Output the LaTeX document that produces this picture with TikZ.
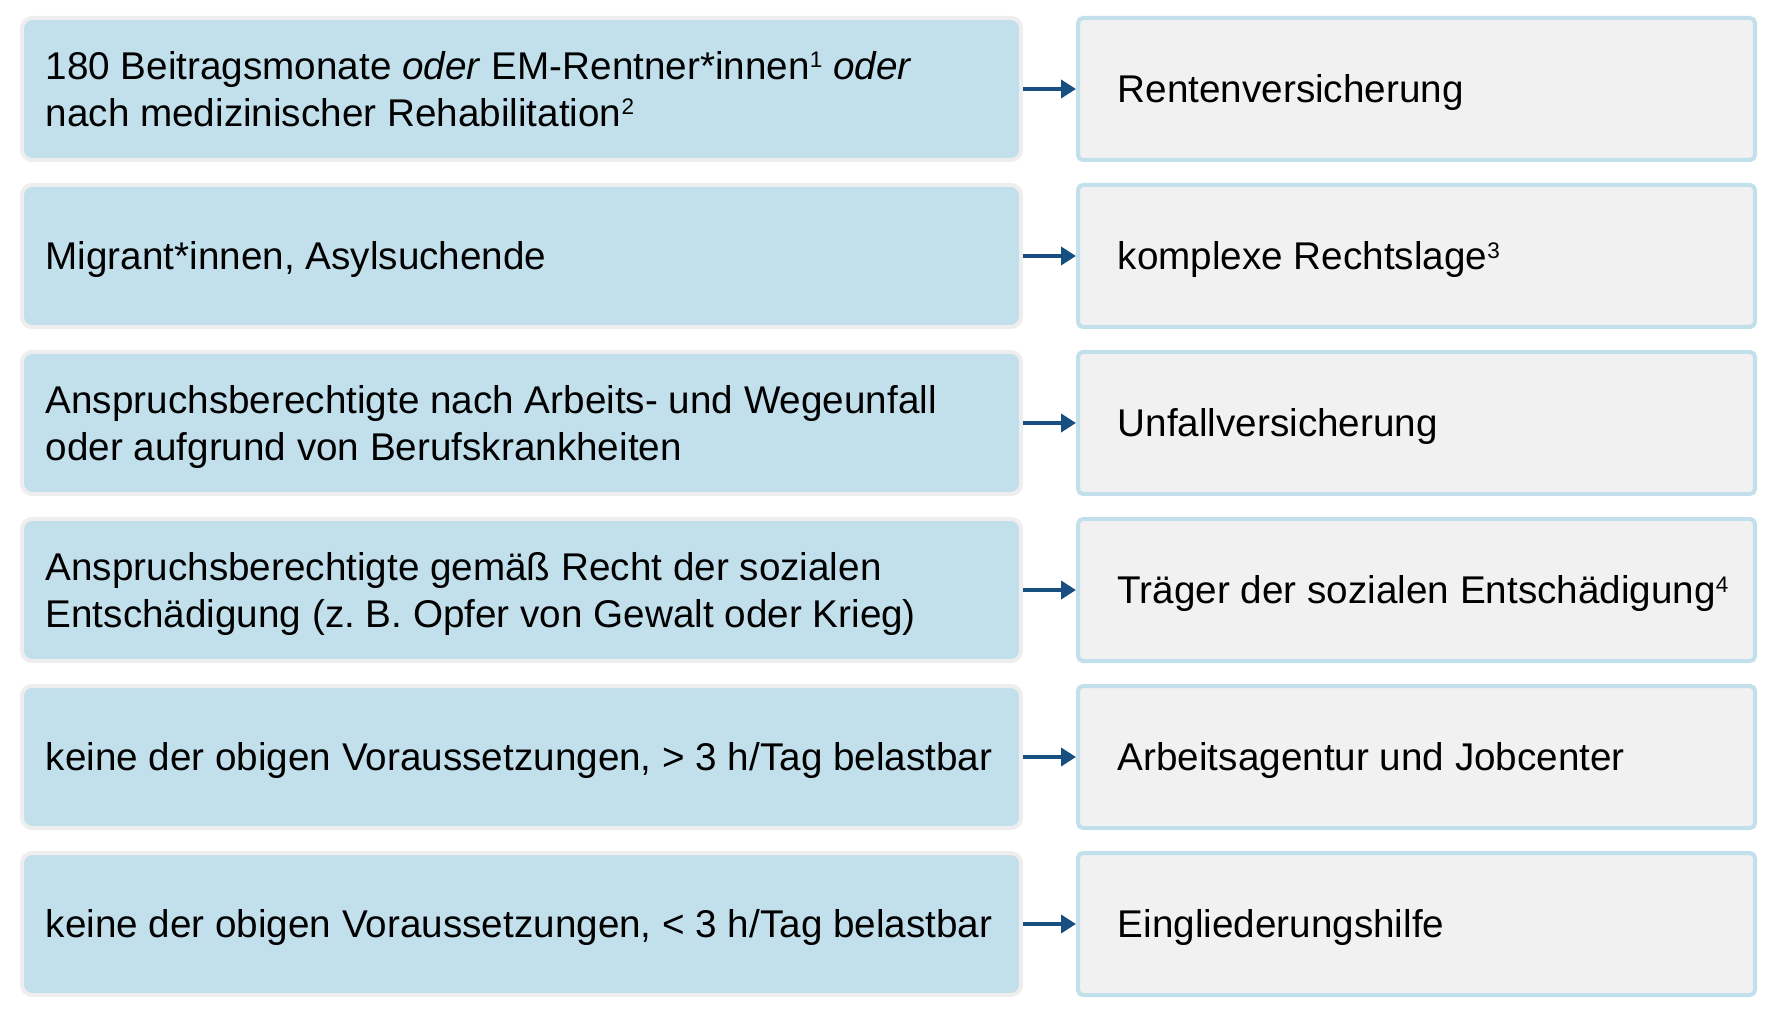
\documentclass[tikz,border=0pt]{standalone}
\usepackage{fontspec}
\setmainfont{Liberation Sans}
\usetikzlibrary{positioning, arrows.meta}
\definecolor{boxblue}{RGB}{194,223,236}
\definecolor{boxgrey}{RGB}{241,241,241}
\definecolor{rimgrey}{RGB}{238,238,238}
\definecolor{arrowblue}{RGB}{23,79,128}
\newcommand{\fn}[1]{\raisebox{3.3pt}{\fontsize{6.4}{6.4}\selectfont #1}}
\tikzstyle{group} = [rectangle, rounded corners=0.1cm, minimum width=9.99cm, minimum height=1.42cm, fill=boxblue, draw=rimgrey, line width=0.04cm]
\tikzstyle{carrier} = [rectangle, rounded corners=0.05cm, minimum width=6.77cm, minimum height=1.42cm, fill=boxgrey, draw=boxblue, line width=0.04cm]
\tikzstyle{label} = [inner sep=0pt, align=left, text height=0.277cm, text depth=0pt, font=\fontsize{11}{13.4}\selectfont]
\tikzstyle{twolines} = [text height=0.748cm]
\tikzstyle{arrow} = [line width=1.1pt,->,>={Triangle[length=1.5mm,width=1.8mm]},draw=arrowblue]

\begin{document}
\begin{tikzpicture}[node distance=1.67cm]
    \useasboundingbox (0,0) rectangle (17.72,10.24);
    % left column: who
    \node (pension) [group] at (5.215,9.35) {};
    \node (migrant) [group, below of=pension] {};
    \node (accident) [group, below of=migrant] {};
    \node (victim) [group, below of=accident] {};
    \node (able) [group, below of=victim] {};
    \node (unable) [group, below of=able] {};
    % right column: which carrier
    \node (rv) [carrier, right of=pension, xshift=7.28cm] {};
    \node (legal) [carrier, right of=migrant, xshift=7.28cm] {};
    \node (uv) [carrier, right of=accident, xshift=7.28cm] {};
    \node (se) [carrier, right of=victim, xshift=7.28cm] {};
    \node (job) [carrier, right of=able, xshift=7.28cm] {};
    \node (eh) [carrier, right of=unable, xshift=7.28cm] {};

    \node (pension text) [label, twolines, right=0.25cm of pension.west] {180 Beitragsmonate \textit{oder} EM-Rentner*innen\fn{1} \textit{oder}\\nach medizinischer Rehabilitation\fn{2}};
    \node (migrant text) [label, right=0.25cm of migrant.west] {Migrant*innen, Asylsuchende};
    \node (accident text) [label, twolines, right=0.25cm of accident.west] {Anspruchsberechtigte nach Arbeits- und Wegeunfall\\oder aufgrund von Berufskrankheiten};
    \node (victim text) [label, twolines, right=0.25cm of victim.west] {Anspruchsberechtigte gemäß Recht der sozialen\\Entschädigung (z.~B. Opfer von Gewalt oder Krieg)};
    \node (able text) [label, right=0.25cm of able.west] {keine der obigen Voraussetzungen, > 3 h/Tag belastbar};
    \node (unable text) [label, right=0.25cm of unable.west] {keine der obigen Voraussetzungen, < 3 h/Tag belastbar};

    \node (rv text) [label, right=0.41cm of rv.west] {Rentenversicherung};
    \node (legal text) [label, right=0.41cm of legal.west] {komplexe Rechtslage\fn{3}};
    \node (uv text) [label, right=0.41cm of uv.west] {Unfallversicherung};
    \node (se text) [label, right=0.41cm of se.west] {Träger der sozialen Entschädigung\fn{4}};
    \node (job text) [label, right=0.41cm of job.west] {Arbeitsagentur und Jobcenter};
    \node (eh text) [label, right=0.41cm of eh.west] {Eingliederungshilfe};

    \draw [arrow] (pension) -- (rv);
    \draw [arrow] (migrant) -- (legal);
    \draw [arrow] (accident) -- (uv);
    \draw [arrow] (victim) -- (se);
    \draw [arrow] (able) -- (job);
    \draw [arrow] (unable) -- (eh);
  \end{tikzpicture}
\end{document}
